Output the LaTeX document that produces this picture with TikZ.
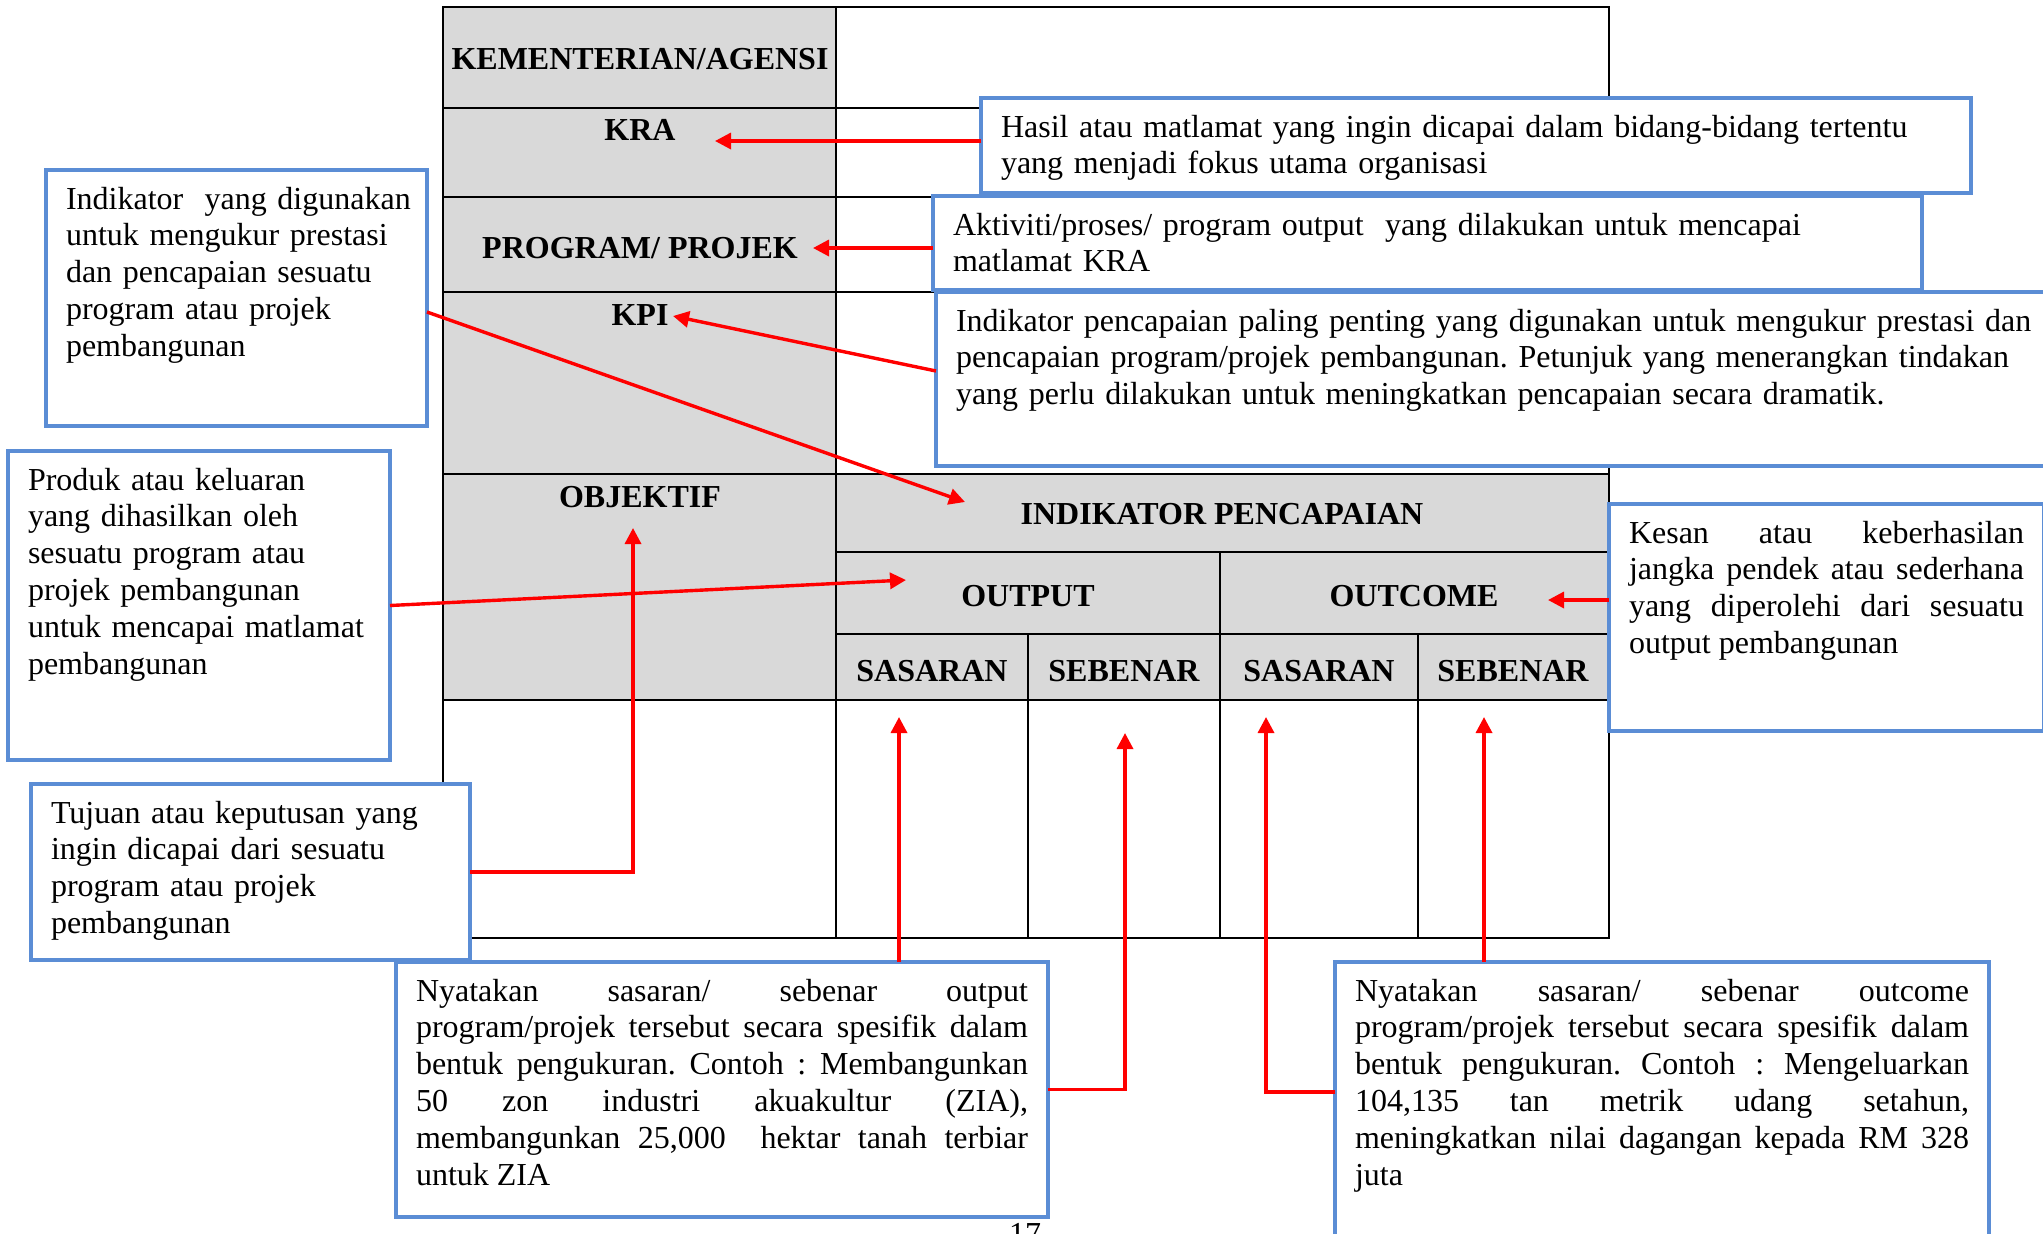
\documentclass[tikz,border=0pt]{standalone}
\usepackage{fontspec}
\setmainfont{Liberation Serif}
\usetikzlibrary{arrows.meta}

\definecolor{cellgray}{RGB}{217,217,217}
\definecolor{noteblue}{RGB}{91,141,213}

\tikzset{
	tabline/.style={line width=1.4pt},
	cellhead/.style={font=\fontsize{16}{18.4}\selectfont\bfseries, anchor=base, inner sep=0pt},
	note/.style={draw=noteblue, line width=2pt, fill=white, anchor=north west, outer sep=0pt,
		inner xsep=10pt, inner ysep=5pt, text height=14.5pt, align=left,
		font=\fontsize{16}{18.4}\selectfont\frenchspacing},
	arr/.style={->, red, line width=1.7pt},
	>={Triangle[length=8pt,width=8pt]}
}

\begin{document}
\begin{tikzpicture}[x=0.5pt, y=-0.5pt]
\useasboundingbox (0,0) rectangle (2043,1233);

% table
\fill[cellgray] (443,7) rectangle (836,700);
\fill[cellgray] (836,474) rectangle (1609,700);
\draw[tabline] (443,7) rectangle (1609,938);
\foreach \y in {108,197,292,474,700}
	\draw[tabline] (443,\y) -- (1609,\y);
\foreach \y in {552,634}
	\draw[tabline] (836,\y) -- (1609,\y);
\draw[tabline] (836,7) -- (836,938);
\draw[tabline] (1220,552) -- (1220,938);
\foreach \x in {1028,1418}
	\draw[tabline] (\x,634) -- (\x,938);

\node[cellhead] (agensi) at (640,69) {KEMENTERIAN/AGENSI};
\node[cellhead] (kra) at (640,140) {KRA};
\node[cellhead] (program) at (640,258) {PROGRAM/ PROJEK};
\node[cellhead] (kpi) at (640,325) {KPI};
\node[cellhead] (objektif) at (640,507) {OBJEKTIF};
\node[cellhead] (indikator) at (1222,524) {INDIKATOR PENCAPAIAN};
\node[cellhead] (output) at (1028,606) {OUTPUT};
\node[cellhead] (outcome) at (1414,606) {OUTCOME};
\node[cellhead] (sasOut) at (932,681) {SASARAN};
\node[cellhead] (sebOut) at (1124,681) {SEBENAR};
\node[cellhead] (sasOc) at (1319,681) {SASARAN};
\node[cellhead] (sebOc) at (1513,681) {SEBENAR};

% notes
\node[note, text width=475pt, text depth=23pt] (hasil) at (981,98)
	{Hasil atau matlamat yang ingin dicapai dalam bidang-bidang tertentu\\
	yang menjadi fokus utama organisasi};
\node[note, text width=474.5pt, text depth=22.5pt] (aktiviti) at (933,196)
	{Aktiviti/proses/ program output\ \ yang dilakukan untuk mencapai\\
	matlamat KRA};
\node[note, text width=542pt, text depth=62.5pt] (kpinote) at (936,292)
	{Indikator pencapaian paling penting yang digunakan untuk mengukur prestasi dan\\
	pencapaian program/projek pembangunan. Petunjuk yang menerangkan tindakan\\
	yang perlu dilakukan untuk meningkatkan pencapaian secara dramatik.};
\node[note, text width=197.5pt, text depth=89pt, align=justify] (kesan) at (1609,504)
	{Kesan atau keberhasilan\linebreak
	jangka pendek atau sederhana\linebreak
	yang diperolehi dari sesuatu\linebreak
	output pembangunan};
\node[note, text width=170.5pt, text depth=103.5pt] (indnote) at (46,170)
	{\mbox{Indikator\ \ yang digunakan}\\
	untuk mengukur prestasi\\
	dan pencapaian sesuatu\\
	program atau projek\\
	pembangunan};
\node[note, text width=171pt, text depth=130pt] (produk) at (8,451)
	{Produk atau keluaran\\
	yang dihasilkan oleh\\
	sesuatu program atau\\
	projek pembangunan\\
	untuk mencapai matlamat\\
	pembangunan};
\node[note, text width=199.5pt, text depth=63.5pt] (tujuan) at (31,784)
	{Tujuan atau keputusan yang\\
	ingin dicapai dari sesuatu\\
	program atau projek\\
	pembangunan};
\node[note, text width=306pt, text depth=103pt, align=justify] (outnote) at (396,962)
	{Nyatakan sasaran/ sebenar output\linebreak
	program/projek tersebut secara spesifik dalam\linebreak
	bentuk pengukuran. Contoh : Membangunkan\linebreak
	50 zon industri akuakultur (ZIA),\linebreak
	membangunkan 25,000\ \ hektar tanah terbiar\linebreak
	untuk ZIA};
\node[note, text width=307pt, text depth=124.5pt, align=justify] (outcnote) at (1335,962)
	{Nyatakan sasaran/ sebenar outcome\linebreak
	program/projek tersebut secara spesifik dalam\linebreak
	bentuk pengukuran. Contoh : Mengeluarkan\linebreak
	104,135 tan metrik udang setahun,\linebreak
	meningkatkan nilai dagangan kepada RM 328\linebreak
	juta};

\node[font=\fontsize{16}{18}\selectfont, anchor=base, inner sep=0pt] (pagenum) at (1025,1244) {17};

% arrow tips
\coordinate (kraTip) at (715,141);
\coordinate (progTip) at (813,248);
\coordinate (kpiTip) at (673,316);
\coordinate (indTip) at (965,502);
\coordinate (outTip) at (906,580);
\coordinate (objTip) at (633,528);
\coordinate (outcTip) at (1548,600);
\coordinate (sasOutTip) at (899,717);
\coordinate (sebOutTip) at (1125,733);
\coordinate (sasOcTip) at (1266,717);
\coordinate (sebOcTip) at (1484,717);

\draw[arr] (hasil.west |- kraTip) -- (kraTip);
\draw[arr] (aktiviti.west |- progTip) -- (progTip);
\draw[arr] ([yshift=4pt]kpinote.west) -- (kpiTip);
\draw[arr] ([yshift=-7pt]indnote.east) -- (indTip);
\draw[arr] (produk.east) -- (outTip);
\draw[arr] (tujuan.east) -| (objTip);
\draw[arr] (kesan.west |- outcTip) -- (outcTip);
\draw[arr] (sasOutTip |- outnote.north) -- (sasOutTip);
\draw[arr] (outnote.east) -| (sebOutTip);
\draw[arr] (outcnote.north west) ++(0,130) -| (sasOcTip);
\draw[arr] (sebOcTip |- outcnote.north) -- (sebOcTip);

\end{tikzpicture}
\end{document}
